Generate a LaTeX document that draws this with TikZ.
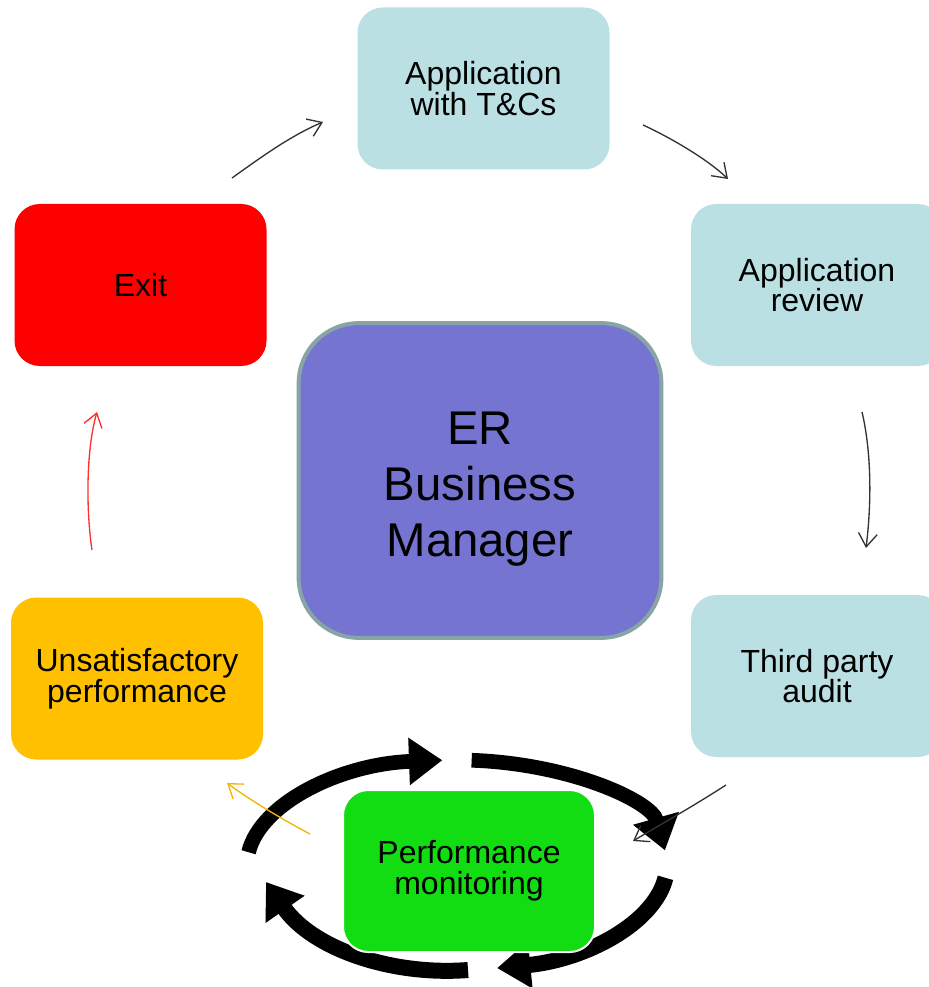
\documentclass[tikz,border=0pt]{standalone}
\usepackage{fontspec}
\setmainfont{Liberation Sans}
\usetikzlibrary{arrows.meta}
\definecolor{boxteal}{HTML}{BBE0E3}
\definecolor{boxgreen}{HTML}{12DD12}
\definecolor{boxorange}{HTML}{FFC000}
\definecolor{boxred}{HTML}{FF0000}
\definecolor{boxpurple}{HTML}{7575D1}
\definecolor{boxborder}{HTML}{88A4A4}
\definecolor{lineorange}{HTML}{F5B400}
\definecolor{linered}{HTML}{FF3030}
\definecolor{linegray}{HTML}{333333}
\begin{document}
\begin{tikzpicture}[x=0.75pt,y=-0.75pt,
  box/.style={rounded corners=19pt, minimum width=189pt, minimum height=121.5pt,
    inner sep=0pt, align=center, font=\fontsize{24}{23}\selectfont},
  thinarrow/.style={line width=1pt, -{Straight Barb[length=10pt,width=14pt]}},
  cyclearrow/.style={line width=11pt, -{Triangle[length=25pt,width=34pt]}}]
\useasboundingbox (0,0) rectangle (928,987);
\fill[white] (0,0) rectangle (928,987);
% cycle arrows
\draw[cyclearrow] (457,865) ++(-173:210 and 105) arc[start angle=-173,end angle=-94,x radius=210,y radius=105];
\draw[cyclearrow] (457,865) ++(-86:210 and 105) arc[start angle=-86,end angle=-8,x radius=210,y radius=105];
\draw[cyclearrow, line width=12pt] (457,865) ++(7:210 and 105) arc[start angle=7,end angle=79,x radius=210,y radius=105];
\draw[cyclearrow, line width=12pt] (468,970) .. controls (390,976) and (312,948) .. (266,882);
% nodes
\node[box, fill=boxteal] (tcs) at (483.5,88.5) {Application\\with T\&Cs};
\node[box, fill=boxteal] (review) at (817,285) {Application\\review};
\node[box, fill=boxteal] (audit) at (817,676) {Third party\\audit};
\node[box, fill=boxgreen, draw=white, line width=1.5pt] (perf) at (469,871) {Performance\\monitoring};
\node[box, fill=boxorange] (unsat) at (137,678.5) {Unsatisfactory\\performance};
\node[box, fill=boxred] (exit) at (140.5,285) {Exit};
\node[rounded corners=45pt, minimum width=272pt, minimum height=236pt, inner sep=0pt,
  fill=boxpurple, draw=boxborder, line width=3pt] (er) at (480,480.5) {};
\node[align=center, inner sep=0pt, font=\fontsize{35.5}{42}\selectfont] (ertext) at (480,489) {ER\\Business\\Manager};
% connector end points
\coordinate (c1s) at (232,178); \coordinate (c1e) at (323,122);
\coordinate (c2s) at (643,125); \coordinate (c2e) at (728,179);
\coordinate (c3s) at (862,412); \coordinate (c3e) at (866,548);
\coordinate (c4s) at (726,785); \coordinate (c4e) at (633,841);
\coordinate (c5s) at (310,834); \coordinate (c5e) at (227,783);
\coordinate (c6s) at (92,550);  \coordinate (c6e) at (97,412);
\draw[thinarrow, linegray] (c1s) .. controls (260,158) and (290,136) .. (c1e);
\draw[thinarrow, linegray] (c2s) .. controls (665,135) and (705,157) .. (c2e);
\draw[thinarrow, linegray] (c3s) .. controls (871,450) and (872,500) .. (c3e);
\draw[thinarrow, linegray] (c4s) .. controls (695,805) and (665,822) .. (c4e);
\draw[thinarrow, lineorange] (c5s) .. controls (280,818) and (250,800) .. (c5e);
\draw[thinarrow, linered] (c6s) .. controls (86,510) and (86,450) .. (c6e);
\end{tikzpicture}
\end{document}
